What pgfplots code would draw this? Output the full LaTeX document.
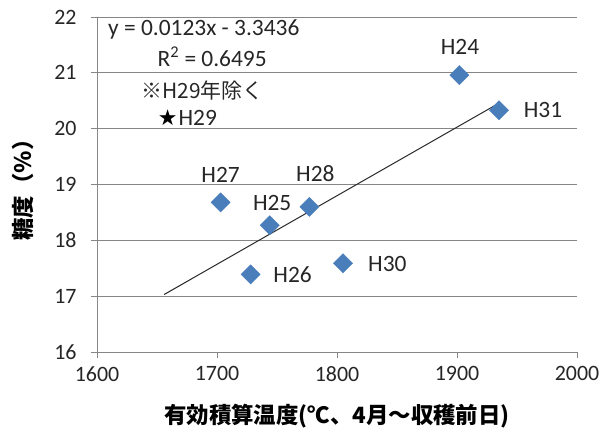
\documentclass[border=0pt]{standalone}
\usepackage{fontspec}
\setmainfont{Carlito}
\newfontfamily\jp{Noto Sans CJK JP}
\newfontfamily\dejavu{DejaVu Sans}
\usepackage{pgfplots}
\usetikzlibrary{plotmarks}
\pgfplotsset{compat=1.18}
\definecolor{ptblue}{HTML}{4A7EBB}
\definecolor{gridc}{HTML}{868686}
\begin{document}
\begin{tikzpicture}
\begin{axis}[
  scale only axis,
  width=480bp, height=335bp,
  xmin=1600, xmax=2000, ymin=16, ymax=22,
  xtick={1600,1700,...,2000}, ytick={16,17,...,22},
  axis x line*=bottom, axis y line*=left,
  axis line style={gridc, line width=0.9pt, -},
  tick style={gridc, line width=0.9pt},
  major tick length=6bp,
  tick align=outside,
  ymajorgrids, grid style={gridc, line width=0.9pt},
  /pgf/number format/assume math mode=true,
  /pgf/number format/1000 sep={},
  tick label style={font=\fontsize{22}{24}\selectfont, text=black!85},
  xticklabel style={yshift=-5bp},
  yticklabel style={xshift=-11bp},
  xlabel={\jp\bfseries 有効積算温度(℃、4月～収穫前日)},
  ylabel={\jp\bfseries 糖度（％）},
  label style={font=\fontsize{22.5}{26}\selectfont},
  xlabel style={at={(axis description cs:0.5,-0.19)}, anchor=center},
  ylabel style={at={(axis description cs:-0.154,0.5)}, anchor=center},
  clip=false,
]
\addplot[black!85, line width=1pt] coordinates {(1656,17.03) (1932,20.42)};
\addplot[only marks, mark=square*, mark size=6.8bp, color=ptblue, mark options={fill=ptblue, draw=ptblue, rotate=45}]
coordinates {
(1902,20.96)
(1935,20.33)
(1703,18.68)
(1744,18.27)
(1777,18.60)
(1728,17.39)
(1805,17.59)
};
\addplot[only marks, color=black, mark=text, text mark={\dejavu\fontsize{22}{22}\selectfont ★}] coordinates {(1659,20.19)};
\begin{scope}[every node/.style={font=\fontsize{23.5}{26}\selectfont, text=black!85}]
\node at (axis cs:1902.5,21.46) {H24};
\node at (axis cs:1971.7,20.33) {H31};
\node at (axis cs:1703,19.17) {H27};
\node at (axis cs:1746,18.67) {H25};
\node at (axis cs:1782,19.19) {H28};
\node at (axis cs:1763,17.38) {H26};
\node at (axis cs:1842,17.57) {H30};
\node at (axis cs:1684,20.19) {H29};
\node at (axis cs:1689,21.77) {y = 0.0123x - 3.3436};
\node at (axis cs:1696,21.29) {R\textsuperscript{2} = 0.6495};
\node[font=\jp\fontsize{21}{24}\selectfont, text=black!85] at (axis cs:1688,20.69) {※H29年除く};
\end{scope}
\path (current axis.south west) ++(-97bp,-80bp) coordinate (bl);
\path (current axis.north east) ++(28bp,17bp) coordinate (tr);
\path[use as bounding box] (bl) rectangle (tr);
\end{axis}
\end{tikzpicture}
\end{document}
